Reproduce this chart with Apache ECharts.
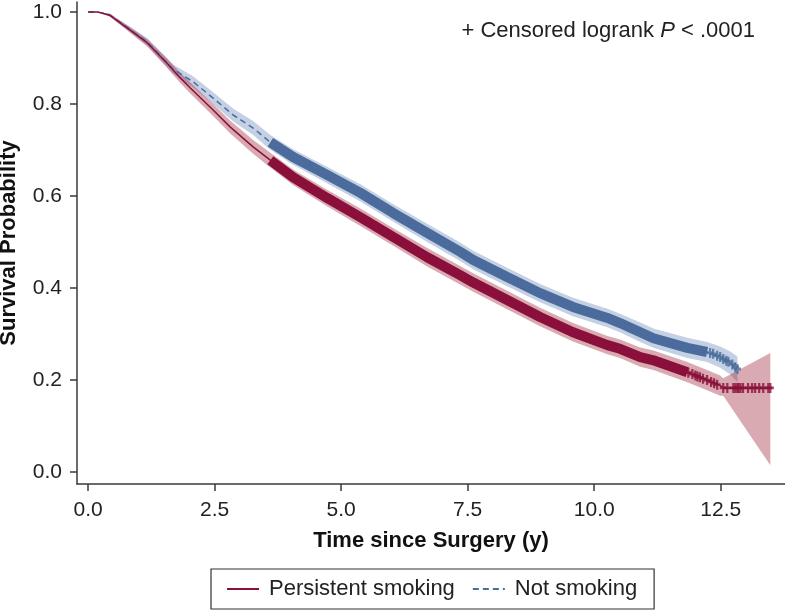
<!DOCTYPE html>
<html>
<head>
<meta charset="utf-8">
<script src="https://cdn.jsdelivr.net/npm/echarts@6/dist/echarts.min.js"></script>
<style>
  html, body { margin: 0; padding: 0; background: #fff; }
  #km { width: 785px; height: 612px; }
</style>
</head>
<body>
<div id="km"></div>
<script>
var myChart = echarts.init(document.getElementById('km'));

// Persistent smoking: time (y), survival, 95% CI low / high
var redT  = [0, 0.2, 0.43, 0.83, 1.17, 1.56, 1.82, 2.02, 2.47, 2.81, 3.26, 3.6, 4.05, 4.72, 5.38, 6.03, 6.70, 7.35, 7.61, 8.28, 8.93, 9.58, 10.26, 10.51, 10.91, 11.17, 11.84, 12.23, 12.49, 12.55, 13.48];
var redS  = [1.0, 1.0, 0.993, 0.961, 0.933, 0.889, 0.857, 0.835, 0.787, 0.750, 0.707, 0.678, 0.641, 0.596, 0.554, 0.511, 0.467, 0.428, 0.412, 0.374, 0.337, 0.304, 0.276, 0.268, 0.250, 0.243, 0.217, 0.200, 0.188, 0.183, 0.183];
var redLo = [1.0, 0.999, 0.990, 0.955, 0.925, 0.879, 0.846, 0.823, 0.774, 0.736, 0.692, 0.662, 0.624, 0.578, 0.535, 0.492, 0.447, 0.408, 0.392, 0.354, 0.317, 0.284, 0.256, 0.248, 0.229, 0.222, 0.195, 0.178, 0.166, 0.166, 0.015];
var redHi = [1.0, 1.0, 0.996, 0.967, 0.941, 0.899, 0.868, 0.847, 0.800, 0.764, 0.722, 0.694, 0.658, 0.614, 0.573, 0.530, 0.487, 0.448, 0.432, 0.394, 0.357, 0.324, 0.296, 0.288, 0.271, 0.264, 0.239, 0.222, 0.210, 0.204, 0.259];

// Not smoking
var blueT  = [0, 0.2, 0.43, 0.83, 1.17, 1.68, 2.08, 2.47, 2.87, 3.26, 3.6, 4.05, 4.72, 5.38, 6.03, 6.70, 7.35, 7.61, 8.28, 8.93, 9.58, 10.26, 10.51, 10.91, 11.17, 11.84, 12.23, 12.49, 12.69, 12.83];
var blueS  = [1.0, 1.0, 0.994, 0.962, 0.935, 0.876, 0.848, 0.813, 0.776, 0.748, 0.717, 0.685, 0.646, 0.607, 0.563, 0.520, 0.479, 0.461, 0.424, 0.389, 0.359, 0.335, 0.324, 0.304, 0.291, 0.270, 0.261, 0.250, 0.237, 0.224];
var blueLo = [1.0, 0.999, 0.991, 0.956, 0.927, 0.866, 0.836, 0.800, 0.762, 0.733, 0.701, 0.668, 0.628, 0.588, 0.544, 0.500, 0.459, 0.441, 0.404, 0.369, 0.339, 0.315, 0.304, 0.283, 0.270, 0.248, 0.239, 0.227, 0.212, 0.195];
var blueHi = [1.0, 1.0, 0.997, 0.968, 0.943, 0.886, 0.860, 0.826, 0.790, 0.763, 0.733, 0.702, 0.664, 0.626, 0.582, 0.540, 0.499, 0.481, 0.444, 0.409, 0.379, 0.355, 0.344, 0.325, 0.312, 0.292, 0.283, 0.273, 0.262, 0.251];

// censoring: dense from 3.6 on, separate marks in the tail
var censorStart = 3.6;
var redDenseEnd = 11.84;
var blueDenseEnd = 12.23;
var redTailT = [11.86, 11.94, 12.00, 12.04, 12.09, 12.15, 12.23, 12.31, 12.37, 12.43, 12.55, 12.63, 12.75, 12.79, 12.83, 12.85, 12.89, 12.94, 13.04, 13.12, 13.18, 13.26, 13.34, 13.44, 13.48];
var redTailS = [0.216, 0.213, 0.210, 0.208, 0.206, 0.203, 0.200, 0.196, 0.193, 0.190, 0.183, 0.183, 0.183, 0.183, 0.183, 0.183, 0.183, 0.183, 0.183, 0.183, 0.183, 0.183, 0.183, 0.183, 0.183];
var blueTailT = [12.29, 12.35, 12.43, 12.49, 12.55, 12.61, 12.65, 12.73, 12.79, 12.83];
var blueTailS = [0.259, 0.257, 0.253, 0.250, 0.246, 0.242, 0.240, 0.234, 0.228, 0.224];

var xTicks = [0, 2.5, 5, 7.5, 10, 12.5];
var yTicks = [0, 0.2, 0.4, 0.6, 0.8, 1.0];

var RED = '#8a0f3a', BLUE = '#4a6b9b';
var FONT = "'Liberation Sans', Arial, Helvetica, sans-serif";
var PLUS = 'path://M3.4,0H6.6V3.6H10V6.4H6.6V10H3.4V6.4H0V3.6H3.4Z';

function pairs(T, S) {
    return T.map(function (t, i) { return [t, S[i]]; });
}
function dense(T, S, a, b) {
    var out = [];
    for (var i = 0; i < T.length; i++) {
        if (T[i] >= a && T[i] <= b) out.push([T[i], S[i]]);
    }
    return out;
}
function band(T, lo, hi, fill) {
    return function (params, api) {
        if (params.dataIndex !== 0) return null;
        var pts = [];
        for (var i = 0; i < T.length; i++) pts.push(api.coord([T[i], hi[i]]));
        for (var j = T.length - 1; j >= 0; j--) pts.push(api.coord([T[j], lo[j]]));
        return { type: 'polygon', shape: { points: pts }, style: { fill: fill } };
    };
}

var option = {
    animation: false,
    textStyle: { fontFamily: FONT },
    grid: { left: 77, right: 0, top: 2, bottom: 128, containLabel: false, outerBoundsMode: 'none' },
    xAxis: {
        type: 'value',
        min: -0.22,
        max: 13.77,
        name: 'Time since Surgery (y)',
        nameLocation: 'middle',
        nameGap: 46,
        nameMoveOverlap: false,
        nameTextStyle: { fontSize: 22, fontWeight: 'bold', color: '#111', fontFamily: FONT },
        axisLine: { onZero: false, lineStyle: { color: '#3a3a3a', width: 1.5 } },
        axisTick: { show: true, length: 7, customValues: xTicks, lineStyle: { color: '#3a3a3a', width: 1.5 } },
        axisLabel: {
            customValues: xTicks, margin: 16, fontSize: 21, color: '#222', fontFamily: FONT,
            formatter: function (v) { return v.toFixed(1); }
        },
        splitLine: { show: false }
    },
    yAxis: {
        type: 'value',
        min: -0.026,
        max: 1.022,
        name: 'Survival Probability',
        nameLocation: 'middle',
        nameRotate: 90,
        nameGap: 57,
        nameMoveOverlap: false,
        nameTextStyle: { fontSize: 22, fontWeight: 'bold', color: '#111', fontFamily: FONT },
        axisLine: { show: true, onZero: false, lineStyle: { color: '#3a3a3a', width: 1.5 } },
        axisTick: { show: true, length: 7, customValues: yTicks, lineStyle: { color: '#3a3a3a', width: 1.5 } },
        axisLabel: {
            customValues: yTicks, margin: 15, fontSize: 21, color: '#222', fontFamily: FONT,
            formatter: function (v) { return v.toFixed(1); }
        },
        splitLine: { show: false }
    },
    legend: {
        data: ['Persistent smoking', 'Not smoking'],
        left: 211,
        top: 569,
        padding: [9, 17, 9, 15],
        itemWidth: 32,
        itemHeight: 24,
        itemGap: 17,
        borderColor: '#333',
        borderWidth: 1.2,
        itemStyle: { opacity: 0 },
        textStyle: { fontSize: 22, color: '#222', fontFamily: FONT, padding: [0, 0, 0, 5] }
    },
    graphic: [{
        type: 'text',
        x: 755,
        y: 31,
        style: {
            text: '{n|+ Censored logrank }{i|P}{n| < .0001}',
            align: 'right',
            verticalAlign: 'middle',
            rich: {
                n: { fontSize: 22, fontFamily: FONT, fill: '#222' },
                i: { fontSize: 22, fontFamily: FONT, fontStyle: 'italic', fill: '#222' }
            }
        }
    }],
    series: [
        {
            name: 'blueBand', type: 'custom', silent: true, z: 1,
            renderItem: band(blueT, blueLo, blueHi, 'rgba(70,110,170,0.32)'),
            data: pairs(blueT, blueS)
        },
        {
            name: 'redBand', type: 'custom', silent: true, z: 1,
            renderItem: band(redT, redLo, redHi, 'rgba(150,20,40,0.36)'),
            data: pairs(redT, redS)
        },
        {
            name: 'Not smoking', type: 'line', symbol: 'none', z: 3,
            color: BLUE,
            lineStyle: { color: BLUE, width: 1.5, type: [6, 4] },
            data: pairs(blueT, blueS)
        },
        {
            name: 'Persistent smoking', type: 'line', symbol: 'none', z: 3,
            color: RED,
            lineStyle: { color: RED, width: 1.5 },
            data: pairs(redT, redS)
        },
        {
            name: 'blueCensDense', type: 'line', symbol: 'none', z: 4, silent: true,
            lineStyle: { color: BLUE, width: 10 },
            data: dense(blueT, blueS, censorStart, blueDenseEnd)
        },
        {
            name: 'redCensDense', type: 'line', symbol: 'none', z: 4, silent: true,
            lineStyle: { color: RED, width: 10 },
            data: dense(redT, redS, censorStart, redDenseEnd)
        },
        {
            name: 'blueCens', type: 'scatter', symbol: PLUS, symbolSize: [7, 10], z: 5, silent: true,
            itemStyle: { color: BLUE },
            data: pairs(blueTailT, blueTailS)
        },
        {
            name: 'redCens', type: 'scatter', symbol: PLUS, symbolSize: [7, 10], z: 5, silent: true,
            itemStyle: { color: RED },
            data: pairs(redTailT, redTailS)
        }
    ]
};
myChart.setOption(option);
</script>
</body>
</html>
